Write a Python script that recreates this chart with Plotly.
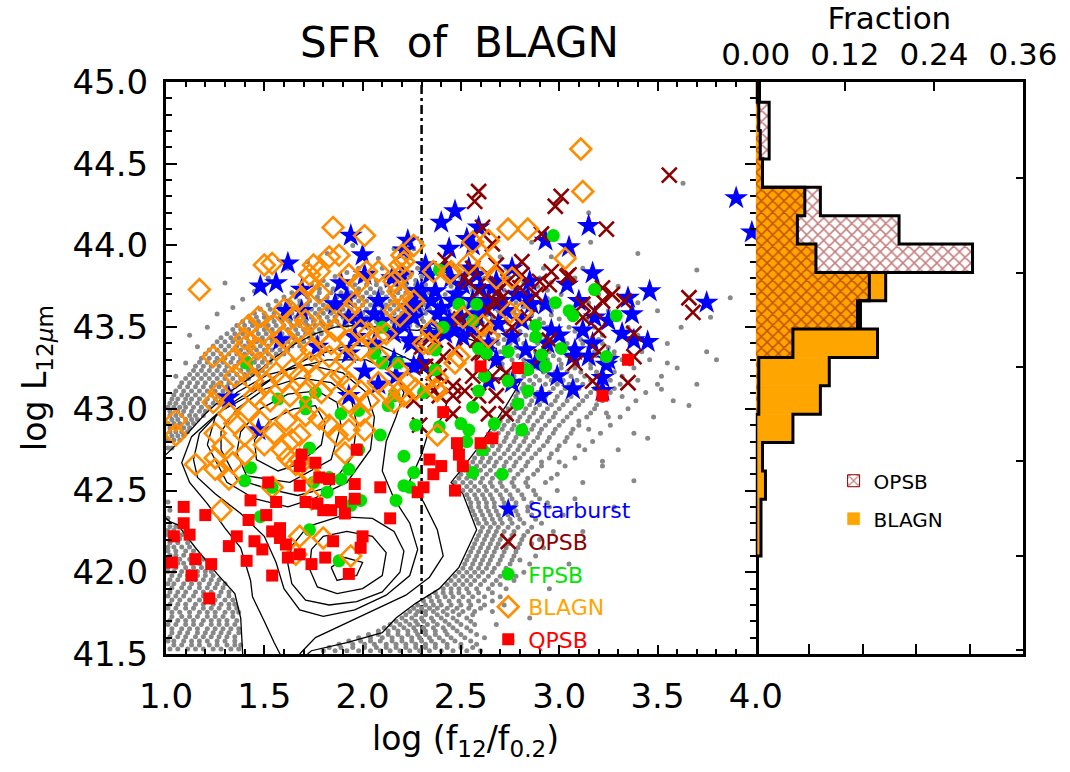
import plotly.graph_objects as go

# ---------------------------------------------------------------
# Samples: (log f12/f0.2, log L12um)
# ---------------------------------------------------------------
starburst = [
    (1.94, 44.06), (2.00, 43.94), (1.62, 43.89), (1.48, 43.75), (1.56, 43.77), (2.23, 44.03),
    (2.21, 43.97), (1.89, 43.77), (1.92, 43.68), (2.08, 43.66), (2.01, 43.82), (1.69, 43.73),
    (1.69, 43.60), (1.61, 43.60), (1.86, 43.64), (2.06, 43.58), (2.16, 43.46), (2.20, 43.52),
    (2.25, 43.62), (2.26, 43.56), (2.15, 43.80), (2.20, 43.82), (2.28, 43.72), (2.10, 43.54),
    (1.99, 43.54), (1.93, 43.56), (1.96, 43.44), (2.06, 43.40), (2.25, 43.40), (2.16, 43.30),
    (1.93, 43.34), (2.30, 43.28), (2.01, 43.23), (2.26, 43.26), (1.32, 43.07), (1.93, 43.08),
    (1.47, 42.87), (1.58, 43.42), (1.77, 43.38), (2.08, 43.15), (2.17, 43.20),
    (2.47, 44.21), (2.40, 44.14), (2.59, 44.11), (2.53, 44.04), (2.56, 44.00), (2.44, 43.98),
    (3.15, 44.12), (2.93, 44.03), (3.05, 43.99), (3.90, 44.29), (3.98, 44.08), (3.17, 43.83),
    (3.46, 43.72), (3.75, 43.65), (3.35, 43.68), (3.37, 43.58), (3.18, 43.56), (3.25, 43.54),
    (3.32, 43.46), (3.45, 43.41), (3.38, 43.42), (3.17, 43.40), (3.25, 43.30), (3.08, 43.36),
    (2.93, 43.64), (3.04, 43.76), (3.10, 43.66), (3.22, 43.11), (3.07, 43.12), (2.91, 43.08),
    (2.99, 43.20), (2.76, 43.86), (2.68, 43.78), (2.84, 43.68), (3.07, 43.32), (3.15, 43.32),
    (3.24, 43.27), (3.22, 43.19), (2.94, 43.40), (2.96, 43.48), (2.81, 43.54), (2.76, 43.44),
    (2.83, 43.36), (2.88, 43.28), (2.69, 43.52), (2.73, 43.60), (2.86, 43.64), (2.64, 43.66),
    (2.58, 43.58), (2.46, 43.66), (2.37, 43.72), (2.34, 43.82), (2.44, 43.54), (2.51, 43.76),
    (2.54, 43.86), (2.66, 43.74), (2.24, 43.42), (2.34, 43.46), (2.42, 43.46), (2.51, 43.44),
    (2.64, 43.40), (2.68, 43.30), (2.29, 43.28), (2.76, 43.16), (2.64, 43.17), (2.27, 43.64),
    (2.32, 43.88), (2.21, 43.54), (2.40, 43.62), (2.48, 43.70), (2.56, 43.66), (2.60, 43.74),
    (2.45, 43.80), (2.38, 43.58), (2.50, 43.56), (2.55, 43.50), (2.62, 43.62), (2.35, 43.66),
    (2.30, 43.72), (2.42, 43.86), (2.58, 43.82), (2.70, 43.66), (2.47, 43.48), (2.40, 43.50),
    (3.00, 43.45), (3.12, 43.48), (2.85, 43.78), (2.78, 43.70),
]

opsb = [
    (2.59, 44.33), (2.57, 44.27), (3.01, 44.30), (2.98, 44.24), (3.56, 44.43), (3.24, 44.10),
    (2.91, 44.07), (2.61, 44.11), (2.66, 44.01), (2.56, 43.86), (2.64, 43.82), (2.81, 43.82),
    (2.90, 43.78), (2.95, 43.76), (3.04, 43.81), (3.27, 43.70), (3.22, 43.66), (3.33, 43.66),
    (3.66, 43.68), (3.68, 43.59), (3.38, 43.46), (3.12, 43.64), (3.18, 43.60), (3.38, 43.32),
    (3.35, 43.16), (3.20, 43.35), (3.08, 43.28), (2.91, 43.32), (2.95, 43.42), (2.84, 43.56),
    (2.74, 43.78), (2.71, 43.68), (2.64, 43.60), (2.59, 43.72), (2.52, 43.80), (2.68, 43.88),
    (2.81, 43.90), (2.96, 43.84), (2.73, 43.22), (2.66, 43.20), (2.59, 43.34), (2.56, 43.20),
    (2.46, 43.14), (2.41, 43.32), (2.37, 43.26), (2.42, 43.91), (2.54, 43.78), (2.69, 43.72),
    (2.67, 43.66), (2.80, 43.74), (2.88, 43.70), (3.05, 43.82), (3.12, 43.56), (3.22, 43.74),
    (3.20, 43.48), (2.46, 43.08), (2.39, 43.20), (2.52, 43.11), (2.73, 42.97), (2.68, 43.08),
    (2.46, 42.97), (2.36, 43.11), (2.32, 43.26), (2.47, 43.36), (2.37, 43.42), (2.58, 43.42),
    (2.61, 43.34), (2.76, 43.50), (2.29, 42.90), (2.39, 43.08), (2.59, 43.08), (2.64, 42.97),
    (2.26, 43.05), (2.30, 43.38), (2.36, 43.22), (3.17, 43.17), (2.50, 43.55), (2.62, 43.50),
]

fpsb = [
    (2.39, 43.85), (2.58, 43.64), (2.56, 43.54), (2.41, 43.50), (2.37, 43.36), (2.59, 43.37),
    (2.98, 43.65), (3.05, 43.60), (3.07, 43.57), (3.18, 43.73), (3.29, 43.57), (2.88, 43.51),
    (2.88, 43.44), (2.74, 43.35), (2.91, 43.33), (2.93, 43.26), (3.01, 43.37), (3.24, 43.32),
    (2.84, 43.24), (2.74, 43.17), (2.62, 43.20), (2.59, 43.11), (2.84, 43.11), (2.79, 43.03),
    (2.56, 43.01), (2.50, 42.91), (2.39, 42.89), (2.54, 42.87), (2.53, 42.80), (2.67, 42.91),
    (2.81, 42.87), (2.27, 42.90), (2.21, 42.71), (2.26, 42.61), (2.71, 42.60), (2.61, 42.75),
    (2.21, 42.53), (2.17, 42.44), (2.56, 42.61), (2.97, 44.06),
    (1.71, 43.00), (1.89, 42.97), (1.98, 42.99), (2.09, 42.84), (1.98, 42.75), (1.73, 42.76),
    (1.43, 42.64), (1.40, 42.56), (1.54, 42.52), (1.75, 42.55), (1.89, 42.57), (1.83, 42.58),
    (1.93, 42.63), (1.99, 42.44), (2.24, 42.52), (1.82, 42.49), (1.94, 42.41), (1.48, 42.34),
    (1.73, 42.26), (1.88, 42.07), (2.10, 43.50), (2.06, 43.34), (2.10, 43.28), (2.18, 43.28),
    (2.37, 43.24), (2.31, 43.10), (2.16, 43.08), (2.13, 43.02), (1.76, 43.10), (1.57, 43.06),
    (1.41, 43.28), (1.71, 43.04), (2.49, 43.64), (2.63, 43.34),
]

blagn = [
    (1.17, 43.73), (1.85, 44.11), (2.01, 44.06), (1.54, 43.89), (1.88, 43.94), (1.75, 43.88),
    (1.78, 43.84), (1.73, 43.82), (2.26, 44.00), (2.20, 43.94), (2.21, 43.90), (2.19, 43.88),
    (2.08, 43.84), (1.93, 43.82), (1.98, 43.77), (2.20, 43.82), (2.16, 43.78), (1.73, 43.76),
    (1.78, 43.71), (1.68, 43.67), (1.96, 43.65), (2.18, 43.72), (2.20, 43.69), (2.16, 43.60),
    (2.26, 43.66), (1.60, 43.61), (1.71, 43.54), (1.47, 43.56), (1.42, 43.51), (1.55, 43.51),
    (1.65, 43.56), (1.82, 43.57), (1.93, 43.60), (1.99, 43.48), (1.86, 43.48), (1.78, 43.46),
    (1.68, 43.48), (1.59, 43.44), (1.49, 43.46), (1.40, 43.43), (1.40, 43.38), (1.34, 43.30),
    (1.24, 43.32), (1.47, 43.37), (1.56, 43.36), (1.66, 43.36), (1.74, 43.36), (1.84, 43.40),
    (1.93, 43.42), (2.03, 43.46), (2.08, 43.44), (2.12, 43.46), (2.19, 43.57), (1.99, 43.36),
    (2.08, 43.32), (2.18, 43.24), (2.23, 43.16), (2.19, 43.11), (1.91, 43.30), (1.83, 43.32),
    (1.73, 43.28), (1.64, 43.24), (1.56, 43.22), (1.47, 43.28), (1.39, 43.24), (1.35, 43.20),
    (1.27, 43.10), (1.24, 43.04), (1.44, 43.17), (1.51, 43.16), (1.59, 43.17), (1.68, 43.20),
    (1.76, 43.20), (1.84, 43.17), (1.93, 43.16), (1.99, 43.11), (2.08, 43.16), (2.13, 43.10),
    (1.79, 43.10), (1.71, 43.10), (1.63, 43.08), (1.53, 43.05), (1.45, 43.08), (1.93, 43.04),
    (2.03, 43.05), (2.16, 43.04), (2.31, 43.40), (2.38, 43.11), (2.45, 43.84), (1.89, 43.20),
    (2.74, 44.10), (2.56, 44.02), (2.54, 43.89), (2.36, 43.84), (2.68, 43.80), (1.83, 43.93),
    (2.02, 43.84), (1.50, 43.88),
    (3.11, 44.59), (3.12, 44.33), (2.84, 44.10), (3.03, 43.92), (2.64, 44.03), (2.63, 43.89),
    (2.44, 43.83), (2.76, 43.80), (2.51, 43.56), (2.75, 43.59), (2.81, 43.59), (2.61, 43.51),
    (2.64, 43.44), (2.49, 43.32), (2.47, 43.28), (2.34, 43.40), (2.38, 43.19), (2.35, 43.48),
    (2.37, 43.12), (2.21, 43.08), (2.27, 43.12), (2.38, 42.84),
    (1.05, 42.93), (1.05, 42.84), (1.15, 42.66), (1.25, 42.70), (1.25, 42.63), (1.32, 42.57),
    (1.28, 42.38), (1.25, 42.85), (1.29, 42.77), (1.34, 42.67), (1.40, 42.84), (1.40, 42.72),
    (1.35, 42.91), (1.42, 42.99), (1.54, 42.52), (1.59, 42.75), (1.61, 42.93), (1.64, 42.81),
    (1.68, 42.69), (1.66, 42.66), (1.72, 42.61), (1.74, 42.60), (1.74, 42.45), (1.68, 42.84),
    (1.71, 42.96), (1.78, 42.94), (1.83, 42.90), (1.87, 42.84), (1.91, 42.73), (1.93, 42.87),
    (2.01, 42.87), (1.99, 42.96), (1.68, 42.22), (1.80, 42.21), (1.66, 42.11), (1.94, 42.10),
    (1.32, 42.97), (1.48, 42.92), (1.55, 42.85), (1.50, 42.78), (1.62, 42.70),
]

qpsb = [
    (1.97, 42.75), (2.41, 42.98), (2.48, 42.79), (2.40, 42.65), (2.36, 42.60), (2.31, 42.52),
    (2.28, 42.49), (2.09, 42.52), (1.96, 42.54), (1.96, 42.45), (1.89, 42.43), (1.84, 42.38),
    (1.91, 42.36), (1.80, 42.38), (1.77, 42.42), (1.71, 42.43), (1.68, 42.53), (1.78, 42.58),
    (1.83, 42.57), (1.76, 42.67), (1.69, 42.72), (1.68, 42.65), (1.52, 42.55), (1.56, 42.43),
    (1.51, 42.35), (1.58, 42.27), (1.54, 42.25), (1.43, 42.44), (1.42, 42.32), (1.36, 42.22),
    (1.32, 42.16), (1.45, 42.19), (1.49, 42.14), (1.41, 42.07), (1.20, 42.35), (1.09, 42.40),
    (1.09, 42.30), (1.12, 42.23), (1.04, 42.22), (1.15, 42.08), (1.23, 42.05), (1.03, 42.06),
    (1.13, 41.98), (1.22, 41.84), (1.54, 41.98), (1.61, 42.17), (1.62, 42.09), (1.68, 42.11),
    (1.74, 42.05), (1.81, 42.09), (1.85, 42.19), (1.93, 41.99), (2.00, 42.22), (1.99, 42.15),
    (2.14, 42.33), (1.58, 42.21), (2.60, 43.26), (2.79, 43.25), (3.35, 43.30), (3.22, 43.08),
    (2.60, 42.79), (2.66, 42.82), (2.34, 42.69), (2.49, 42.72), (2.51, 42.65), (2.47, 42.50),
]

# Parent sample outside the outermost density contour, stored row by row
# bottom-left block
gray_rows_left = [
    (41.53, [1.02, 1.06, 1.11, 1.15, 1.19, 1.24, 1.28, 1.33, 1.37]),
    (41.555, [1.04, 1.08, 1.13, 1.17, 1.22, 1.26, 1.31, 1.35, 1.38]),
    (41.58, [1.01, 1.04, 1.09, 1.13, 1.17, 1.21, 1.26, 1.30, 1.35]),
    (41.605, [1.02, 1.06, 1.10, 1.15, 1.19, 1.23, 1.27, 1.31, 1.35]),
    (41.63, [1.03, 1.07, 1.11, 1.16, 1.20, 1.24, 1.28, 1.32, 1.37]),
    (41.655, [1.03, 1.08, 1.12, 1.16, 1.21, 1.25, 1.29, 1.33, 1.37]),
    (41.68, [1.01, 1.05, 1.10, 1.14, 1.18, 1.23, 1.27, 1.31, 1.35]),
    (41.705, [1.02, 1.06, 1.10, 1.14, 1.19, 1.23, 1.27, 1.31, 1.36]),
    (41.73, [1.03, 1.08, 1.12, 1.16, 1.21, 1.25, 1.29, 1.34]),
    (41.755, [1.03, 1.07, 1.12, 1.17, 1.21, 1.25, 1.30, 1.34, 1.37]),
    (41.78, [1.01, 1.05, 1.10, 1.14, 1.19, 1.23, 1.27, 1.32, 1.36]),
    (41.805, [1.02, 1.06, 1.10, 1.15, 1.19, 1.24, 1.28, 1.32, 1.35]),
    (41.83, [1.03, 1.07, 1.12, 1.17, 1.21, 1.25, 1.30, 1.34]),
    (41.855, [1.01, 1.05, 1.09, 1.14, 1.19, 1.23, 1.27, 1.32]),
    (41.88, [1.02, 1.06, 1.10, 1.15, 1.19, 1.23, 1.28, 1.32]),
    (41.905, [1.03, 1.08, 1.12, 1.17, 1.21, 1.25, 1.29]),
    (41.93, [1.01, 1.04, 1.09, 1.13, 1.17, 1.22, 1.26, 1.30]),
    (41.955, [1.02, 1.06, 1.11, 1.15, 1.19, 1.23, 1.27]),
    (41.98, [1.03, 1.07, 1.11, 1.16, 1.20, 1.24]),
    (42.005, [1.01, 1.04, 1.08, 1.12, 1.16, 1.20, 1.23]),
    (42.03, [1.01, 1.05, 1.10, 1.14, 1.18, 1.22]),
    (42.055, [1.02, 1.06, 1.09, 1.13, 1.17]),
    (42.08, [1.03, 1.07, 1.12, 1.16, 1.19]),
    (42.105, [1.02, 1.05, 1.09, 1.13, 1.16]),
    (42.13, [1.01, 1.05, 1.10, 1.14]),
    (42.155, [1.01, 1.04, 1.08, 1.12]),
    (42.18, [1.02, 1.06, 1.11]),
    (42.205, [1.03, 1.07]),
    (42.23, [1.01, 1.04, 1.08]),
    (42.255, [1.01, 1.04]),
    (42.28, [1.02, 1.05]),
    (42.33, [1.01]),
    (42.38, [1.02]),
    (42.43, [1.01]),
]

# bottom-middle patch and the steep wing on the right
gray_rows_wing = [
    (41.52, [1.80, 1.86, 1.92, 1.98, 2.04, 2.09, 2.14, 2.19, 2.24, 2.29, 2.34, 2.40, 2.46, 2.53, 2.60]),
    (41.54, [1.83, 1.89, 1.95, 2.01, 2.07, 2.12, 2.17, 2.22, 2.27, 2.32, 2.37, 2.43, 2.50, 2.56]),
    (41.56, [1.88, 1.95, 2.01, 2.06, 2.12, 2.17, 2.22, 2.27, 2.32, 2.37, 2.43, 2.50, 2.58]),
    (41.58, [1.93, 1.99, 2.04, 2.09, 2.15, 2.20, 2.25, 2.30, 2.35, 2.41, 2.47, 2.55]),
    (41.60, [1.98, 2.04, 2.10, 2.15, 2.20, 2.25, 2.29, 2.34, 2.39, 2.45, 2.52, 2.62]),
    (41.62, [2.03, 2.08, 2.13, 2.18, 2.23, 2.28, 2.32, 2.37, 2.43, 2.50, 2.58]),
    (41.64, [2.08, 2.13, 2.18, 2.23, 2.27, 2.32, 2.37, 2.42, 2.48, 2.55]),
    (41.66, [2.11, 2.16, 2.21, 2.26, 2.31, 2.36, 2.41, 2.46, 2.53]),
    (41.68, [2.14, 2.19, 2.24, 2.28, 2.33, 2.38, 2.44, 2.50, 2.57, 2.68]),
    (41.70, [2.17, 2.22, 2.27, 2.31, 2.36, 2.42, 2.48, 2.55]),
    (41.72, [2.20, 2.25, 2.30, 2.35, 2.40, 2.46, 2.53]),
    (41.74, [2.22, 2.27, 2.32, 2.38, 2.43, 2.49, 2.56]),
    (41.76, [2.24, 2.28, 2.32, 2.36, 2.41, 2.46, 2.51, 2.57, 2.66]),
    (41.78, [2.26, 2.30, 2.34, 2.38, 2.43, 2.48, 2.54, 2.60]),
    (41.80, [2.28, 2.32, 2.36, 2.40, 2.45, 2.50, 2.55, 2.62, 2.72]),
    (41.825, [2.31, 2.35, 2.39, 2.44, 2.49, 2.54, 2.59, 2.66]),
    (41.85, [2.34, 2.38, 2.42, 2.46, 2.51, 2.56, 2.62, 2.70]),
    (41.875, [2.37, 2.41, 2.45, 2.49, 2.54, 2.59, 2.66]),
    (41.90, [2.41, 2.45, 2.49, 2.53, 2.58, 2.64, 2.73]),
    (41.925, [2.43, 2.47, 2.51, 2.55, 2.60, 2.66, 2.70]),
    (41.95, [2.45, 2.49, 2.53, 2.57, 2.62, 2.68, 2.77]),
    (41.975, [2.47, 2.51, 2.55, 2.59, 2.64, 2.70, 2.78]),
    (42.00, [2.49, 2.53, 2.57, 2.61, 2.66, 2.72, 2.82]),
    (42.025, [2.51, 2.55, 2.59, 2.63, 2.67, 2.73]),
    (42.05, [2.52, 2.56, 2.60, 2.64, 2.69, 2.75, 2.85]),
    (42.075, [2.53, 2.57, 2.61, 2.65, 2.70, 2.76, 2.80]),
    (42.10, [2.54, 2.58, 2.62, 2.66, 2.71, 2.77, 2.88]),
    (42.125, [2.55, 2.59, 2.63, 2.67, 2.72, 2.78]),
    (42.15, [2.56, 2.60, 2.64, 2.68, 2.73, 2.79, 2.92]),
    (42.175, [2.57, 2.61, 2.65, 2.69, 2.74, 2.80, 2.86]),
    (42.20, [2.58, 2.62, 2.66, 2.70, 2.75, 2.81, 2.90]),
    (42.225, [2.59, 2.63, 2.67, 2.71, 2.76, 2.82]),
    (42.25, [2.60, 2.64, 2.68, 2.72, 2.77, 2.84, 2.97]),
    (42.275, [2.61, 2.65, 2.69, 2.74, 2.79, 2.86]),
    (42.30, [2.59, 2.63, 2.67, 2.71, 2.76, 2.82, 2.91]),
    (42.325, [2.58, 2.62, 2.66, 2.70, 2.75, 2.80, 2.88]),
    (42.35, [2.57, 2.61, 2.65, 2.69, 2.74, 2.79, 2.86, 3.02]),
    (42.375, [2.56, 2.60, 2.64, 2.68, 2.73, 2.78, 2.84]),
    (42.40, [2.55, 2.59, 2.63, 2.67, 2.72, 2.77, 2.84, 2.95]),
    (42.425, [2.55, 2.59, 2.63, 2.67, 2.72, 2.78, 2.86, 2.94]),
    (42.45, [2.54, 2.58, 2.62, 2.66, 2.71, 2.76, 2.82, 2.90, 3.08]),
    (42.475, [2.53, 2.57, 2.61, 2.65, 2.70, 2.75, 2.81, 2.88]),
    (42.50, [2.51, 2.55, 2.59, 2.63, 2.68, 2.73, 2.79, 2.87, 2.99]),
    (42.525, [2.49, 2.53, 2.57, 2.62, 2.66, 2.71, 2.77, 2.84]),
    (42.55, [2.47, 2.51, 2.55, 2.60, 2.65, 2.70, 2.76, 2.83, 2.93, 3.12]),
    (42.575, [2.49, 2.53, 2.57, 2.61, 2.66, 2.71, 2.77, 2.84, 2.96]),
    (42.60, [2.50, 2.54, 2.58, 2.63, 2.68, 2.73, 2.79, 2.87, 2.99]),
    (42.625, [2.52, 2.56, 2.60, 2.65, 2.70, 2.75, 2.81, 2.89]),
    (42.65, [2.54, 2.58, 2.62, 2.67, 2.72, 2.77, 2.83, 2.91, 3.03, 3.22]),
    (42.675, [2.56, 2.60, 2.64, 2.68, 2.73, 2.78, 2.84, 2.91, 3.00]),
    (42.70, [2.57, 2.61, 2.65, 2.70, 2.75, 2.80, 2.86, 2.95, 3.08]),
    (42.725, [2.59, 2.63, 2.67, 2.72, 2.77, 2.82, 2.88, 2.96]),
    (42.75, [2.60, 2.64, 2.69, 2.74, 2.79, 2.84, 2.90, 2.99, 3.13, 3.30]),
    (42.775, [2.62, 2.66, 2.70, 2.75, 2.80, 2.85, 2.92, 3.00, 3.10]),
    (42.80, [2.63, 2.67, 2.72, 2.77, 2.82, 2.87, 2.94, 3.03, 3.17]),
    (42.825, [2.64, 2.68, 2.73, 2.78, 2.83, 2.89, 2.95, 3.04]),
    (42.85, [2.65, 2.69, 2.74, 2.79, 2.84, 2.90, 2.97, 3.06, 3.21, 3.38]),
    (42.875, [2.67, 2.71, 2.76, 2.81, 2.86, 2.91, 2.98, 3.07, 3.15]),
    (42.90, [2.68, 2.72, 2.77, 2.82, 2.87, 2.93, 3.00, 3.10, 3.26]),
    (42.925, [2.70, 2.74, 2.79, 2.84, 2.89, 2.95, 3.02, 3.10]),
    (42.95, [2.71, 2.75, 2.80, 2.85, 2.91, 2.97, 3.04, 3.14, 3.31, 3.48]),
    (42.975, [2.73, 2.77, 2.82, 2.87, 2.92, 2.98, 3.06, 3.16, 3.24]),
    (43.00, [2.74, 2.78, 2.83, 2.88, 2.94, 3.00, 3.08, 3.18, 3.35]),
    (43.025, [2.76, 2.80, 2.85, 2.90, 2.96, 3.02, 3.10, 3.19]),
    (43.05, [2.77, 2.81, 2.86, 2.92, 2.98, 3.04, 3.12, 3.22, 3.39, 3.58]),
    (43.075, [2.78, 2.83, 2.88, 2.93, 2.99, 3.06, 3.14, 3.24, 3.32]),
    (43.10, [2.79, 2.84, 2.89, 2.95, 3.01, 3.08, 3.16, 3.26, 3.44]),
    (43.125, [2.81, 2.86, 2.91, 2.97, 3.03, 3.10, 3.18, 3.28]),
    (43.15, [2.82, 2.87, 2.93, 2.99, 3.05, 3.12, 3.20, 3.31, 3.50, 3.70]),
    (43.175, [2.80, 2.85, 2.90, 2.96, 3.02, 3.09, 3.16, 3.26, 3.40]),
    (43.20, [2.77, 2.82, 2.88, 2.94, 3.00, 3.06, 3.13, 3.21, 3.32, 3.52]),
    (43.225, [2.74, 2.80, 2.86, 2.92, 2.98, 3.04, 3.11, 3.19, 3.28]),
    (43.25, [2.71, 2.77, 2.83, 2.89, 2.95, 3.01, 3.08, 3.16, 3.25, 3.38, 3.60]),
    (43.275, [2.71, 2.77, 2.83, 2.89, 2.95, 3.01, 3.08, 3.16, 3.25, 3.36]),
    (43.30, [2.70, 2.76, 2.82, 2.88, 2.94, 3.00, 3.07, 3.14, 3.22, 3.32, 3.46]),
    (43.325, [2.73, 2.79, 2.85, 2.91, 2.97, 3.04, 3.11, 3.19, 3.28]),
    (43.35, [2.70, 2.76, 2.82, 2.88, 2.95, 3.02, 3.10, 3.18, 3.28, 3.42, 3.75]),
    (43.375, [2.66, 2.72, 2.78, 2.85, 2.92, 2.99, 3.07, 3.15, 3.25]),
    (43.40, [2.63, 2.69, 2.75, 2.82, 2.89, 2.96, 3.04, 3.12, 3.22, 3.36, 3.55]),
    (43.425, [2.60, 2.66, 2.72, 2.79, 2.86, 2.93, 3.02, 3.11, 3.20]),
    (43.45, [2.57, 2.63, 2.69, 2.76, 2.83, 2.91, 3.00, 3.10, 3.22, 3.40]),
    (43.475, [2.49, 2.55, 2.61, 2.67, 2.73, 2.80, 2.88, 2.97, 3.08]),
    (43.50, [2.40, 2.46, 2.52, 2.58, 2.64, 2.70, 2.77, 2.85, 2.94, 3.05, 3.18, 3.35, 3.62]),
    (43.525, [2.37, 2.43, 2.49, 2.55, 2.61, 2.67, 2.74, 2.82, 2.92]),
    (43.55, [2.36, 2.42, 2.48, 2.54, 2.60, 2.66, 2.73, 2.81, 2.90, 3.00, 3.14, 3.30]),
    (43.575, [2.39, 2.45, 2.51, 2.57, 2.63, 2.70, 2.78, 2.86, 2.96]),
    (43.60, [2.38, 2.44, 2.50, 2.56, 2.62, 2.69, 2.77, 2.86, 2.96, 3.08, 3.25, 3.50]),
    (43.625, [2.41, 2.47, 2.53, 2.59, 2.66, 2.73, 2.82, 2.91]),
    (43.65, [2.40, 2.47, 2.54, 2.61, 2.69, 2.78, 2.88, 3.00, 3.15, 3.40]),
    (43.675, [2.44, 2.51, 2.58, 2.65, 2.73, 2.83, 2.94]),
    (43.70, [2.42, 2.50, 2.58, 2.67, 2.77, 2.88, 3.01, 3.20]),
    (43.725, [2.48, 2.56, 2.64, 2.72, 2.82, 2.94]),
    (43.75, [2.45, 2.55, 2.65, 2.76, 2.89, 3.04, 3.30]),
    (43.775, [2.52, 2.60, 2.70, 2.82, 2.96]),
    (43.80, [2.50, 2.62, 2.75, 2.90, 3.08]),
    (43.86, [2.58, 2.73, 2.92, 3.12]),
    (43.93, [2.70, 2.96]),
    (44.02, [2.86, 3.16]),
]

# band above the upper arc of the contours
gray_rows_arc = [
    (42.76, [1.01, 1.03]),
    (42.81, [1.01, 1.04, 1.07]),
    (42.835, [1.03, 1.06, 1.09]),
    (42.86, [1.02, 1.05, 1.08, 1.11]),
    (42.885, [1.02, 1.05, 1.09, 1.12]),
    (42.91, [1.01, 1.04, 1.07, 1.11, 1.14]),
    (42.935, [1.03, 1.06, 1.10, 1.13, 1.16]),
    (42.96, [1.02, 1.05, 1.08, 1.12, 1.15, 1.19]),
    (42.985, [1.02, 1.06, 1.09, 1.13, 1.17, 1.20]),
    (43.01, [1.01, 1.04, 1.07, 1.10, 1.14, 1.18, 1.22]),
    (43.035, [1.02, 1.05, 1.09, 1.12, 1.16, 1.20, 1.24, 1.27]),
    (43.06, [1.03, 1.06, 1.10, 1.13, 1.17, 1.21, 1.25, 1.29]),
    (43.085, [1.04, 1.08, 1.11, 1.15, 1.19, 1.23, 1.27, 1.31]),
    (43.11, [1.05, 1.09, 1.13, 1.17, 1.21, 1.25, 1.29, 1.33]),
    (43.135, [1.07, 1.11, 1.15, 1.19, 1.23, 1.27, 1.31, 1.35]),
    (43.16, [1.08, 1.12, 1.16, 1.20, 1.24, 1.28, 1.32, 1.36, 1.40]),
    (43.185, [1.10, 1.14, 1.18, 1.22, 1.26, 1.30, 1.34, 1.38, 1.42]),
    (43.21, [1.12, 1.16, 1.20, 1.24, 1.28, 1.32, 1.36, 1.40, 1.44, 1.47]),
    (43.235, [1.14, 1.18, 1.22, 1.26, 1.30, 1.34, 1.38, 1.42, 1.46, 1.49]),
    (43.26, [1.15, 1.19, 1.23, 1.27, 1.31, 1.35, 1.39, 1.43, 1.47, 1.51]),
    (43.285, [1.17, 1.21, 1.25, 1.29, 1.33, 1.37, 1.41, 1.45, 1.49, 1.53]),
    (43.31, [1.18, 1.22, 1.26, 1.30, 1.34, 1.38, 1.42, 1.46, 1.50, 1.54]),
    (43.335, [1.20, 1.24, 1.28, 1.32, 1.36, 1.40, 1.44, 1.48, 1.52, 1.56, 1.60]),
    (43.36, [1.22, 1.26, 1.30, 1.34, 1.38, 1.42, 1.46, 1.50, 1.54, 1.58, 1.62]),
    (43.385, [1.24, 1.28, 1.32, 1.36, 1.40, 1.44, 1.48, 1.52, 1.56, 1.60, 1.64, 1.68]),
    (43.41, [1.26, 1.30, 1.34, 1.38, 1.42, 1.46, 1.50, 1.54, 1.58, 1.62, 1.66, 1.70]),
    (43.435, [1.28, 1.33, 1.37, 1.41, 1.45, 1.49, 1.53, 1.57, 1.61, 1.65, 1.69, 1.73, 1.77]),
    (43.46, [1.31, 1.35, 1.39, 1.43, 1.47, 1.51, 1.55, 1.59, 1.63, 1.67, 1.71, 1.75, 1.79]),
    (43.485, [1.34, 1.38, 1.42, 1.46, 1.50, 1.54, 1.58, 1.62, 1.66, 1.70, 1.74, 1.78, 1.82]),
    (43.51, [1.36, 1.40, 1.44, 1.48, 1.52, 1.56, 1.60, 1.64, 1.68, 1.72, 1.76, 1.80, 1.84, 1.88,
             1.92, 1.96, 2.00, 2.04, 2.08, 2.12, 2.16, 2.20, 2.24, 2.28, 2.33]),
    (43.535, [1.39, 1.43, 1.47, 1.51, 1.55, 1.59, 1.63, 1.67, 1.71, 1.75, 1.79, 1.83, 1.87, 1.91,
              1.95, 1.99, 2.03, 2.07, 2.11, 2.15, 2.19, 2.23, 2.27, 2.31]),
    (43.56, [1.42, 1.46, 1.50, 1.54, 1.58, 1.62, 1.66, 1.70, 1.74, 1.78, 1.82, 1.86, 1.90, 1.94,
             1.98, 2.02, 2.06, 2.10, 2.14, 2.18, 2.22, 2.26, 2.30]),
    (43.585, [1.45, 1.50, 1.55, 1.60, 1.64, 1.68, 1.72, 1.76, 1.80, 1.84, 1.88, 1.92, 1.96, 2.00,
              2.04, 2.08, 2.12, 2.16, 2.20, 2.24, 2.28, 2.32]),
    (43.61, [1.48, 1.53, 1.58, 1.62, 1.66, 1.70, 1.74, 1.78, 1.82, 1.86, 1.90, 1.94, 1.98, 2.02,
             2.06, 2.10, 2.14, 2.18, 2.22, 2.26, 2.30, 2.34]),
    (43.635, [1.52, 1.58, 1.63, 1.68, 1.72, 1.76, 1.80, 1.84, 1.88, 1.92, 1.96, 2.00, 2.04, 2.08,
              2.12, 2.16, 2.20, 2.24, 2.28, 2.32]),
    (43.66, [1.56, 1.62, 1.68, 1.73, 1.78, 1.82, 1.86, 1.90, 1.94, 1.98, 2.02, 2.06, 2.10, 2.14,
             2.18, 2.22, 2.26, 2.30]),
    (43.685, [1.60, 1.66, 1.72, 1.77, 1.82, 1.87, 1.92, 1.96, 2.00, 2.04, 2.08, 2.12, 2.16, 2.20,
              2.24, 2.28, 2.32]),
    (43.71, [1.64, 1.71, 1.78, 1.84, 1.89, 1.94, 1.98, 2.02, 2.06, 2.10, 2.14, 2.18, 2.22, 2.26,
             2.30, 2.34]),
    (43.735, [1.70, 1.78, 1.85, 1.92, 1.98, 2.04, 2.09, 2.14, 2.19, 2.24, 2.29]),
    (43.76, [1.74, 1.82, 1.90, 1.96, 2.02, 2.07, 2.12, 2.17, 2.22, 2.27, 2.32]),
    (43.785, [1.80, 1.90, 1.99, 2.07, 2.14, 2.21, 2.27]),
    (43.81, [1.86, 1.96, 2.04, 2.11, 2.18, 2.24, 2.30]),
    (43.835, [1.92, 2.05, 2.15, 2.25]),
    (43.86, [1.98, 2.10, 2.20, 2.28]),
    (43.92, [2.08, 2.22]),
    (43.98, [2.16, 2.26]),
]

gray_sparse = [
    (1.21, 43.50), (1.30, 43.77), (1.39, 43.67), (1.16, 43.38), (1.26, 43.58), (1.34, 43.62),
    (1.45, 43.72), (1.52, 43.80), (1.62, 43.86), (1.72, 43.90), (1.82, 43.95), (1.95, 44.00),
    (2.30, 44.02), (1.10, 43.28), (1.05, 43.20), (1.12, 43.45), (3.63, 44.38), (3.87, 43.68),
    (3.77, 43.56), (3.55, 43.28), (3.66, 43.02), (3.45, 42.82), (3.38, 42.56), (3.22, 42.68),
    (3.28, 42.40), (3.12, 42.25), (3.05, 42.05), (2.95, 41.90), (2.85, 41.72), (2.76, 41.58),
    (3.70, 43.85), (3.40, 43.95), (3.15, 44.20), (3.25, 42.95), (3.52, 43.12), (3.80, 43.30),
]

# Density contours of the parent sample (each a traced polyline)
contours = [
    [(1.00, 42.72), (1.11, 42.85), (1.20, 42.97), (1.32, 43.10), (1.44, 43.20), (1.56, 43.32),
     (1.66, 43.40), (1.76, 43.46), (1.86, 43.50), (1.96, 43.51), (2.08, 43.50), (2.16, 43.49),
     (2.28, 43.48), (2.34, 43.50), (2.51, 43.44), (2.68, 43.37), (2.68, 43.26), (2.80, 43.16),
     (2.73, 43.02), (2.63, 42.84), (2.58, 42.75), (2.49, 42.61), (2.45, 42.55), (2.51, 42.48),
     (2.58, 42.26), (2.49, 42.03), (2.39, 41.90), (2.27, 41.81), (2.17, 41.72), (2.10, 41.63),
     (1.92, 41.57), (1.74, 41.52), (1.72, 41.50)],
    [(1.00, 42.33), (1.02, 42.31), (1.06, 42.29), (1.15, 42.15), (1.26, 41.99), (1.35, 41.87),
     (1.38, 41.72), (1.39, 41.50)],
    [(1.58, 41.50), (1.55, 41.57), (1.50, 41.70), (1.44, 41.85), (1.43, 41.95), (1.38, 42.15),
     (1.30, 42.27), (1.21, 42.42), (1.12, 42.55), (1.08, 42.67), (1.13, 42.83), (1.27, 42.98),
     (1.42, 43.08), (1.58, 43.22), (1.74, 43.32), (1.93, 43.39), (2.10, 43.38), (2.26, 43.29),
     (2.33, 43.22), (2.38, 43.10), (2.43, 43.04), (2.40, 42.94), (2.33, 42.84), (2.30, 42.72),
     (2.24, 42.56), (2.31, 42.43), (2.38, 42.26), (2.41, 42.10), (2.34, 41.97), (2.22, 41.86),
     (2.06, 41.77), (1.90, 41.68), (1.76, 41.60), (1.68, 41.50)],
    [(1.14, 42.69), (1.17, 42.85), (1.28, 42.99), (1.44, 43.12), (1.62, 43.24), (1.82, 43.30),
     (2.02, 43.30), (2.16, 43.22), (2.21, 43.10), (2.17, 42.95), (2.12, 42.80), (2.10, 42.62),
     (2.16, 42.45), (2.24, 42.30), (2.28, 42.14), (2.24, 41.98), (2.12, 41.86), (1.96, 41.77),
     (1.80, 41.73), (1.68, 41.77), (1.60, 41.90), (1.56, 42.06), (1.50, 42.22), (1.38, 42.36),
     (1.25, 42.48), (1.16, 42.58), (1.14, 42.69)],
    [(1.21, 42.78), (1.31, 42.55), (1.45, 42.45), (1.62, 42.40), (1.75, 42.45), (1.92, 42.55),
     (2.04, 42.75), (2.06, 42.95), (2.02, 43.10), (1.90, 43.22), (1.72, 43.27), (1.52, 43.21),
     (1.36, 43.10), (1.25, 42.95), (1.21, 42.78)],
    [(1.28, 42.75), (1.36, 42.57), (1.52, 42.51), (1.67, 42.47), (1.83, 42.52), (1.95, 42.71),
     (1.97, 42.91), (1.94, 43.07), (1.84, 43.16), (1.68, 43.19), (1.50, 43.12), (1.36, 43.00),
     (1.28, 42.86), (1.28, 42.75)],
    [(1.36, 42.73), (1.41, 42.59), (1.63, 42.55), (1.84, 42.69), (1.89, 42.90), (1.87, 43.04),
     (1.77, 43.11), (1.62, 43.09), (1.48, 43.00), (1.38, 42.86), (1.36, 42.73)],
    [(1.45, 42.81), (1.46, 42.69), (1.57, 42.62), (1.67, 42.66), (1.79, 42.78), (1.81, 42.91),
     (1.76, 43.02), (1.65, 43.00), (1.53, 42.93), (1.45, 42.81)],
    [(1.64, 42.16), (1.72, 42.28), (1.88, 42.34), (2.05, 42.33), (2.16, 42.25), (2.21, 42.13),
     (2.19, 42.00), (2.10, 41.88), (1.97, 41.82), (1.83, 41.80), (1.71, 41.83), (1.64, 41.93),
     (1.62, 42.05), (1.64, 42.16)],
    [(1.74, 42.14), (1.80, 42.22), (1.92, 42.25), (2.05, 42.22), (2.12, 42.12), (2.10, 41.98),
     (2.00, 41.90), (1.87, 41.87), (1.77, 41.91), (1.73, 42.02), (1.74, 42.14)],
    [(1.84, 42.03), (1.91, 42.09), (2.00, 42.06), (1.97, 41.98), (1.87, 41.95), (1.84, 42.03)],
]

# Fraction histograms of log L12um (bins from the bottom up)
hist_lo = 42.10
hist_width = 0.1735
blagn_frac = [0.007, 0.007, 0.013, 0.009, 0.050, 0.087, 0.099, 0.164, 0.141, 0.175,
              0.081, 0.056, 0.066, 0.009, 0.006, 0.004, 0.0]
opsb_frac = [0.0, 0.0, 0.0, 0.0, 0.0, 0.004, 0.004, 0.050, 0.137, 0.153,
             0.292, 0.193, 0.087, 0.009, 0.018, 0.018, 0.005]

sb_cut = 2.30          # starburst colour cut in log(f12/f0.2)
x_range = [1.0, 4.0]
y_range = [41.5, 45.0]
frac_range = [0.0, 0.36]
frac_top_ticks = [0.0, 0.12, 0.24, 0.36]
frac_bottom_ticks = [0.0, 0.072, 0.144, 0.216, 0.288, 0.36]

FONT = "DejaVu Sans"
C_SB, C_OPSB, C_FPSB, C_BLAGN, C_QPSB = "#0000ff", "#8b0000", "#00e000", "#ff8c00", "#ff0000"
C_HIST = "#ffa500"


def xy(pts):
    return [p[0] for p in pts], [p[1] for p in pts]


fig = go.Figure()

# parent sample
gx, gy = [], []
for yv, xs in gray_rows_left + gray_rows_wing + gray_rows_arc:
    gx += xs
    gy += [yv] * len(xs)
sx, sy = xy(gray_sparse)
fig.add_trace(go.Scatter(x=gx + sx, y=gy + sy, mode="markers", showlegend=False,
                         marker=dict(size=5, color="#888888"), hoverinfo="skip"))

# contours
for c in contours:
    cx, cy = xy(c)
    fig.add_trace(go.Scatter(x=cx, y=cy, mode="lines", showlegend=False,
                             line=dict(color="black", width=1.3), hoverinfo="skip"))

legend_items = [
    ("Starburst", starburst, dict(symbol="star", size=18, color=C_SB), C_SB),
    ("OPSB", opsb, dict(symbol="x-thin", size=15, color=C_OPSB,
                        line=dict(width=2.6, color=C_OPSB)), C_OPSB),
    ("FPSB", fpsb, dict(symbol="circle", size=13, color=C_FPSB), "#00e600"),
    ("BLAGN", blagn, dict(symbol="diamond-open", size=16, color=C_BLAGN,
                          line=dict(width=2.6)), C_HIST),
    ("QPSB", qpsb, dict(symbol="square", size=12, color=C_QPSB), C_QPSB),
]
for name, pts, mk, tcol in legend_items:
    px, py = xy(pts)
    fig.add_trace(go.Scatter(
        x=px, y=py, mode="markers", marker=mk, legend="legend2", legendgroup=name,
        name=f"<span style='color:{tcol}'>{name}</span>"))

# histograms
centers = [hist_lo + (i + 0.5) * hist_width for i in range(len(blagn_frac))]
hatch = dict(shape="x", fgcolor=C_OPSB, size=8, solidity=0.35)
fig.add_trace(go.Bar(x=blagn_frac, y=centers, orientation="h", width=hist_width,
                     xaxis="x2", yaxis="y2", name="BLAGN", legendrank=2, legendgroup="hb",
                     marker=dict(color=C_HIST, line=dict(width=0.6, color=C_HIST))))
fig.add_trace(go.Bar(x=opsb_frac, y=centers, orientation="h", width=hist_width,
                     xaxis="x2", yaxis="y2", showlegend=False,
                     marker=dict(color="rgba(0,0,0,0)", line=dict(width=0), pattern=hatch)))
# legend key for the hatched histogram
fig.add_trace(go.Bar(x=[None], y=[None], orientation="h", xaxis="x2", yaxis="y2",
                     name="OPSB", legendrank=1, legendgroup="ho",
                     marker=dict(color="rgba(0,0,0,0)", line=dict(width=1, color=C_OPSB),
                                 pattern=hatch)))


def step_outline(fracs):
    xs, ys = [0.0], [hist_lo]
    for i, f in enumerate(fracs):
        lo = hist_lo + i * hist_width
        xs += [f, f]
        ys += [lo, lo + hist_width]
    xs.append(0.0)
    ys.append(hist_lo + len(fracs) * hist_width)
    return xs, ys


for fr in (blagn_frac, opsb_frac):
    ox, oy = step_outline(fr)
    fig.add_trace(go.Scatter(x=ox, y=oy, mode="lines", xaxis="x2", yaxis="y2",
                             showlegend=False, hoverinfo="skip",
                             line=dict(color="black", width=3)))

# right-hand count axis ticks
fig.add_trace(go.Scatter(x=[None], y=[None], xaxis="x3", yaxis="y3", showlegend=False))

split = 596 / 866
ax_common = dict(showline=True, linecolor="black", linewidth=3, showgrid=False,
                 zeroline=False, ticks="inside", tickcolor="black", tickwidth=2)

fig.update_layout(
    width=1070, height=772, autosize=False,
    margin=dict(l=166, r=38, t=75, b=118),
    paper_bgcolor="white", plot_bgcolor="white",
    font=dict(family=FONT, color="black"),
    barmode="overlay",
    xaxis=dict(domain=[0, split], range=x_range, anchor="y", dtick=0.5, tick0=1.0,
               tickformat=".1f", ticklen=9, mirror="allticks",
               minor=dict(ticks="inside", dtick=0.1, tick0=1.0, ticklen=5, tickwidth=2,
                          tickcolor="black"),
               tickfont=dict(size=34), ticklabelstandoff=10, **ax_common),
    yaxis=dict(domain=[0, 1], range=y_range, anchor="x", dtick=0.5, tick0=41.5,
               tickformat=".1f", ticklen=11, mirror="allticks",
               minor=dict(ticks="inside", dtick=0.1, tick0=41.5, ticklen=6, tickwidth=2,
                          tickcolor="black"),
               tickfont=dict(size=34), ticklabelstandoff=8, **ax_common),
    xaxis2=dict(domain=[split, 1], range=frac_range, anchor="y2", side="top",
                tickvals=frac_top_ticks, tickformat=".2f", ticklen=9, mirror=True,
                tickfont=dict(size=31), ticklabelstandoff=2,
                title=dict(text="Fraction", font=dict(size=31), standoff=2), **ax_common),
    xaxis3=dict(overlaying="x2", range=frac_range, anchor="y2", side="bottom",
                tickvals=frac_bottom_ticks, ticks="inside", ticklen=10, tickwidth=2,
                tickcolor="black", showticklabels=False, showline=False,
                showgrid=False, zeroline=False),
    yaxis2=dict(domain=[0, 1], range=y_range, anchor="x2", showticklabels=False,
                showline=False, ticks="", showgrid=False, zeroline=False),
    yaxis3=dict(overlaying="y2", anchor="x2", side="right", range=[-0.04, 6.02],
                tickvals=[0, 1, 2, 3, 4, 5], ticks="inside", ticklen=7, tickwidth=2,
                tickcolor="black", showticklabels=False, showline=True,
                linecolor="black", linewidth=3, showgrid=False, zeroline=False),
    legend=dict(x=0.779, y=0.337, xanchor="left", yanchor="top",
                font=dict(size=20, color="black"), tracegroupgap=9,
                bgcolor="rgba(0,0,0,0)", itemwidth=30),
    legend2=dict(x=0.376, y=0.290, xanchor="left", yanchor="top",
                 font=dict(size=22), tracegroupgap=1, bgcolor="rgba(0,0,0,0)",
                 itemwidth=30),
    shapes=[dict(type="line", xref="x", yref="y domain", x0=sb_cut, x1=sb_cut, y0=0, y1=1,
                 layer="below", line=dict(color="black", width=2.5, dash="9px,4px,3px,4px"))],
    annotations=[
        dict(text="SFR\u00a0 of\u00a0 BLAGN", xref="paper", yref="paper",
             x=0.343, y=1.069, showarrow=False, font=dict(size=42),
             xanchor="center", yanchor="middle"),
        dict(text="log L<sub>12<i>\u03bc</i>m</sub>", xref="paper", yref="paper",
             x=-0.151, y=0.482, showarrow=False, font=dict(size=33), textangle=-90,
             xanchor="center", yanchor="middle"),
        dict(text="log (f<sub>12</sub>/f<sub>0.2</sub>)", xref="paper", yref="paper",
             x=0.349, y=-0.152, showarrow=False, font=dict(size=33),
             xanchor="center", yanchor="middle"),
    ],
)

fig.write_html("out.html")
